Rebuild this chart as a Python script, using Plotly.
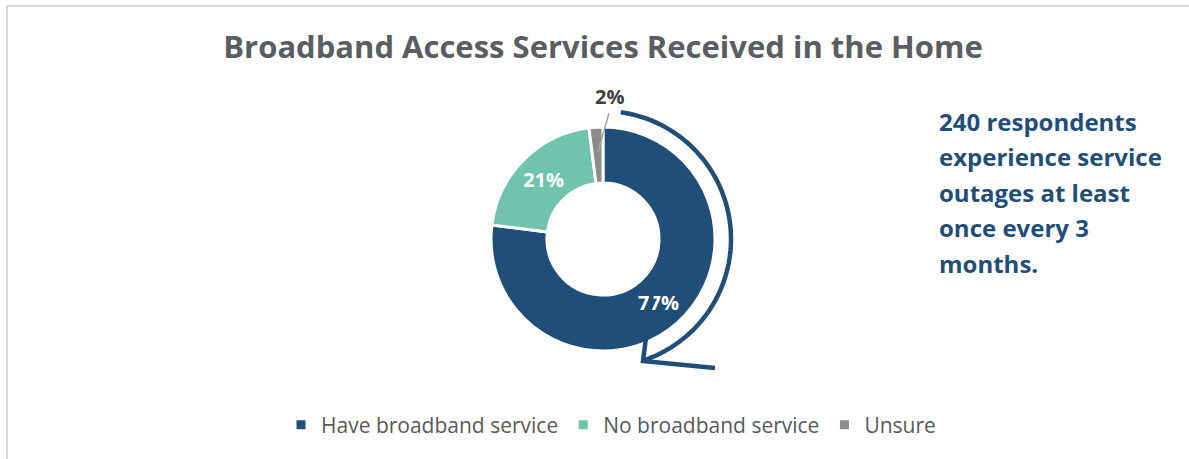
import numpy as np
import plotly.graph_objects as go

# Survey shares
categories = ["Have broadband service", "No broadband service", "Unsure"]
shares = [77, 21, 2]
colors = ["#1F4E79", "#70C4AD", "#8C8C8C"]

callout_lines = [
    "240 respondents",
    "experience service",
    "outages at least",
    "once every 3",
    "months.",
]

W, H = 1189, 459
CX, CY, R_OUT = 603, 239, 112  # donut centre and outer radius, px


def px(x, y):
    """Pixel -> paper coordinates."""
    return x / W, 1 - y / H


fig = go.Figure()
fig.add_trace(go.Pie(
    labels=categories,
    values=shares,
    hole=0.5,
    sort=False,
    direction="clockwise",
    rotation=0,
    marker=dict(colors=colors, line=dict(color="white", width=3)),
    texttemplate="%{value}%",
    textposition=["inside", "inside", "none"],
    insidetextorientation="horizontal",
    insidetextfont=dict(color="white", size=20, family="Open Sans", weight="bold"),
    domain=dict(x=[(CX - R_OUT) / W, (CX + R_OUT) / W],
                y=[1 - (CY + R_OUT) / H, 1 - (CY - R_OUT) / H]),
    hoverinfo="label+percent",
))

shapes = []

# Frame: left and top edges
shapes.append(dict(type="line", xref="paper", yref="paper",
                   x0=7 / W, x1=7 / W, y0=0, y1=1 - 6 / H,
                   line=dict(color="#D9D9D9", width=2)))
shapes.append(dict(type="line", xref="paper", yref="paper",
                   x0=6 / W, x1=1, y0=1 - 6 / H, y1=1 - 6 / H,
                   line=dict(color="#D9D9D9", width=2)))

# Curved arrow wrapping the broadband slice
r_arc = 128
theta = np.radians(np.linspace(8, 161, 80))
ax_pts = [px(CX + r_arc * np.sin(t), CY - r_arc * np.cos(t)) for t in theta]
path = "M " + " L ".join(f"{x:.5f},{y:.5f}" for x, y in ax_pts)
shapes.append(dict(type="path", xref="paper", yref="paper", path=path,
                   line=dict(color="#1F4E79", width=4.5)))
tip = px(643, 361)
head_a = px(652, 292)
head_b = px(715, 368)
shapes.append(dict(type="path", xref="paper", yref="paper",
                   path=f"M {head_a[0]:.5f},{head_a[1]:.5f} L {tip[0]:.5f},{tip[1]:.5f} "
                        f"L {head_b[0]:.5f},{head_b[1]:.5f}",
                   line=dict(color="#1F4E79", width=4.5)))

# Leader line for the small slice label
la = px(609, 113)
lb = px(598, 152)
shapes.append(dict(type="line", xref="paper", yref="paper",
                   x0=la[0], y0=la[1], x1=lb[0], y1=lb[1],
                   line=dict(color="#A6A6A6", width=1.5)))

annotations = []

# Label of the small slice, placed above the ring
lx, ly = px(609, 96)
annotations.append(dict(
    x=lx, y=ly, xref="paper", yref="paper", text=f"{shares[2]}%", showarrow=False,
    xanchor="center", yanchor="middle",
    font=dict(family="Open Sans", size=20, color="#404040", weight="bold"),
))

for i, line in enumerate(callout_lines):
    x, y = px(937, 121 + i * 35.5)
    annotations.append(dict(
        x=x, y=y, xref="paper", yref="paper", text=line, showarrow=False,
        xanchor="left", yanchor="middle",
        font=dict(family="Open Sans", size=24, color="#1F4E79", weight="bold"),
    ))

fig.update_layout(
    width=W, height=H,
    margin=dict(l=0, r=0, t=0, b=0),
    paper_bgcolor="white",
    plot_bgcolor="white",
    title=dict(
        text="Broadband Access Services Received in the Home",
        x=603 / W, xanchor="center", y=1 - 47 / H, yanchor="middle",
        font=dict(family="Open Sans", size=31, color="#5A5E62", weight="bold"),
    ),
    legend=dict(
        orientation="h", x=611 / W, xanchor="center", y=1 - 425 / H, yanchor="middle",
        font=dict(family="Open Sans", size=21, color="#595959"),
        itemwidth=30,
    ),
    shapes=shapes,
    annotations=annotations,
)

fig.write_html("out.html")
